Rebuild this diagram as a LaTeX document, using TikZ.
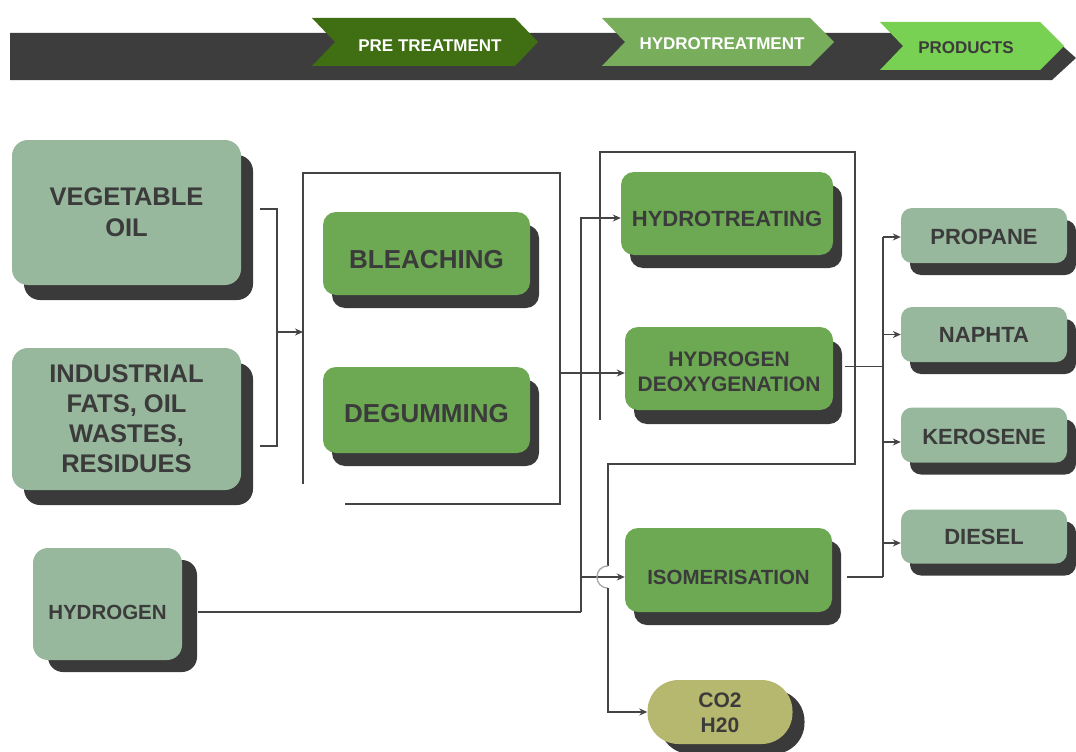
\documentclass[tikz,border=0pt]{standalone}
\usepackage{fontspec}
\setmainfont{Liberation Sans}
\usetikzlibrary{arrows.meta,shadows,calc}
\definecolor{sage}{HTML}{98B89D}
\definecolor{leaf}{HTML}{6CA952}
\definecolor{shade}{HTML}{3A3A3A}
\definecolor{ink}{HTML}{3B3B3B}
\definecolor{olive}{HTML}{B7B86F}
\definecolor{barc}{HTML}{3D3D3D}
\definecolor{chevA}{HTML}{3F6F12}
\definecolor{chevB}{HTML}{78AD5C}
\definecolor{chevC}{HTML}{78D152}
\definecolor{wire}{HTML}{444444}
\newcommand\lowr[2]{\raisebox{-#1}[\height][\depth]{#2}}
\newcommand\lowrr[2]{\raisebox{-#1}[\height][\depth]{\begin{tabular}{@{}c@{}}#2\end{tabular}}}
\tikzset{
  boxbase/.style={rounded corners=13pt, draw=none, text=ink, align=center, inner sep=0pt},
  sagebox/.style={boxbase, fill=sage},
  leafbox/.style={boxbase, fill=leaf},
  shadowed/.style 2 args={general shadow={fill=shade, shadow xshift=#1, shadow yshift=#2}},
  wireline/.style={draw=wire, line width=1.8pt},
  arrowline/.style={wireline, -{Stealth[length=8pt,width=7pt]}},
  hopline/.style={draw=gray!70, line width=1.3pt},
  chevtext/.style={font=\fontsize{17}{20}\selectfont\bfseries, inner sep=0pt}
}
\begin{document}
\begin{tikzpicture}[x=1pt,y=-1pt]
\path[use as bounding box, fill=white] (0,0) rectangle (1076,752);

% top banner
\fill[barc] (10,33) -- (1048,33) -- (1076,58) -- (1052,80) -- (10,80) -- cycle;
\fill[chevA] (312,18) -- (515,18) -- (538,42) -- (515,66) -- (312,66) -- (335,42) -- cycle;
\fill[chevB] (602,18) -- (810,18) -- (834,42) -- (810,66) -- (602,66) -- (625,42) -- cycle;
\fill[chevC] (880,22) -- (1040,22) -- (1064,46) -- (1040,70) -- (880,70) -- (903,46) -- cycle;
\node[chevtext, text=white] (tpre) at (430,46) {PRE TREATMENT};
\node[chevtext, text=white] (thyd) at (722,44) {HYDROTREATMENT};
\node[chevtext, text=ink] (tprod) at (966,48) {PRODUCTS};

% feed boxes
\node[sagebox, shadowed={12pt}{-15pt}, rounded corners=16pt, minimum width=229pt, minimum height=145pt,
  font=\fontsize{25.5}{31}\selectfont\bfseries] (veg) at (126.5,212.5) {VEGETABLE\\OIL};
\node[sagebox, shadowed={12pt}{-15pt}, rounded corners=16pt, minimum width=229pt, minimum height=142pt,
  font=\fontsize{25.5}{30}\selectfont\bfseries] (ind) at (126.5,419) {\lowrr{2pt}{INDUSTRIAL\\FATS, OIL\\WASTES,\\RESIDUES}};
\node[sagebox, shadowed={15pt}{-12pt}, rounded corners=15pt, minimum width=149pt, minimum height=112pt,
  font=\fontsize{20.5}{24}\selectfont\bfseries] (hyd) at (107.5,604) {\lowr{8pt}{HYDROGEN}};

% pre-treatment
\node[leafbox, shadowed={9pt}{-13pt}, minimum width=207pt, minimum height=83pt,
  font=\fontsize{26}{30}\selectfont\bfseries] (bleach) at (426.5,253.5) {\lowr{6pt}{BLEACHING}};
\node[leafbox, shadowed={9pt}{-13pt}, minimum width=207pt, minimum height=86pt,
  font=\fontsize{26}{30}\selectfont\bfseries] (degum) at (426.5,410) {\lowr{4pt}{DEGUMMING}};

% hydrotreatment
\node[leafbox, shadowed={9pt}{-13pt}, minimum width=212pt, minimum height=83pt,
  font=\fontsize{22}{25}\selectfont\bfseries] (hydt) at (727,213.5) {\lowr{5pt}{HYDROTREATING}};
\node[leafbox, shadowed={9pt}{-14pt}, minimum width=208pt, minimum height=83pt,
  font=\fontsize{21}{25}\selectfont\bfseries] (deoxy) at (729,368.5) {\lowrr{5pt}{HYDROGEN\\DEOXYGENATION}};
\node[leafbox, shadowed={9pt}{-13pt}, minimum width=207pt, minimum height=84pt,
  font=\fontsize{20.5}{25}\selectfont\bfseries] (isom) at (728.5,570) {\lowr{7pt}{ISOMERISATION}};
\node[boxbase, fill=olive, shadowed={12pt}{-10pt}, rounded corners=31pt, minimum width=145pt, minimum height=64pt,
  font=\fontsize{21}{25}\selectfont\bfseries] (co2) at (720,712) {\lowrr{3pt}{CO2\\H20}};

% products
\node[sagebox, shadowed={9pt}{-12pt}, rounded corners=11pt, minimum width=166pt, minimum height=55pt,
  font=\fontsize{22}{25}\selectfont\bfseries] (prop) at (984,235.5) {\lowr{1.5pt}{PROPANE}};
\node[sagebox, shadowed={9pt}{-12pt}, rounded corners=11pt, minimum width=166pt, minimum height=55pt,
  font=\fontsize{22}{25}\selectfont\bfseries] (naph) at (984,334.5) {NAPHTA};
\node[sagebox, shadowed={9pt}{-12pt}, rounded corners=11pt, minimum width=166pt, minimum height=55pt,
  font=\fontsize{22}{25}\selectfont\bfseries] (kero) at (984,435) {\lowr{2pt}{KEROSENE}};
\node[sagebox, shadowed={9pt}{-12pt}, rounded corners=11pt, minimum width=166pt, minimum height=54pt,
  font=\fontsize{22}{25}\selectfont\bfseries] (dies) at (984,536.5) {DIESEL};

% junction coordinates
\coordinate (j1) at (277,332);
\coordinate (ptin) at (303,332);
\coordinate (ptout) at (560,373);
\coordinate (hj) at (581,612);
\coordinate (hb) at (581,577);
\coordinate (pj) at (883,368.5);
\coordinate (pjtop) at (883,237);
\coordinate (pjbot) at (883,577);

% feeds to pre-treatment
\draw[wireline] ($(veg.east)+(19,-3.5)$) -| (j1);
\draw[wireline] ($(ind.east)+(19,27)$) -| (j1);
\draw[arrowline] (j1) -- (ptin);
\draw[wireline] (345,504) -- (560,504) -- (560,173) -- (303,173) -- (303,484);
\draw[arrowline] (ptout) -- (ptout -| deoxy.west);

% hydrogen supply
\draw[wireline] ($(hyd.east)+(16,8)$) -- (hj);
\draw[arrowline] (hj) |- ($(hydt.west)+(0,4.5)$);
\draw[arrowline] (hb) -- ($(isom.west)+(0,7)$);

% hydrotreatment bracket to CO2/H2O
\draw[wireline] (600,420) -- (600,152) -- (855,152) -- (855,464) -- (608,464) -- (608,566);
\draw[hopline] (608,566) .. controls (593.3,566) and (593.3,588) .. (608,588);
\draw[arrowline] (608,588) |- (co2.west);

% to products
\draw[wireline] ($(deoxy.east)+(12,-2)$) -- ($(pj)+(0,-2)$);
\draw[wireline] ($(isom.east)+(15,7)$) -- (pjbot);
\draw[wireline] (pjtop) -- (pjbot);
\draw[arrowline] (pjtop) -- (pjtop -| prop.west);
\draw[arrowline] (naph.west -| pj) -- (naph.west);
\draw[arrowline] ($(kero.west -| pj)+(0,7)$) -- ($(kero.west)+(0,7)$);
\draw[arrowline] ($(dies.west -| pj)+(0,6.5)$) -- ($(dies.west)+(0,6.5)$);
\end{tikzpicture}
\end{document}
